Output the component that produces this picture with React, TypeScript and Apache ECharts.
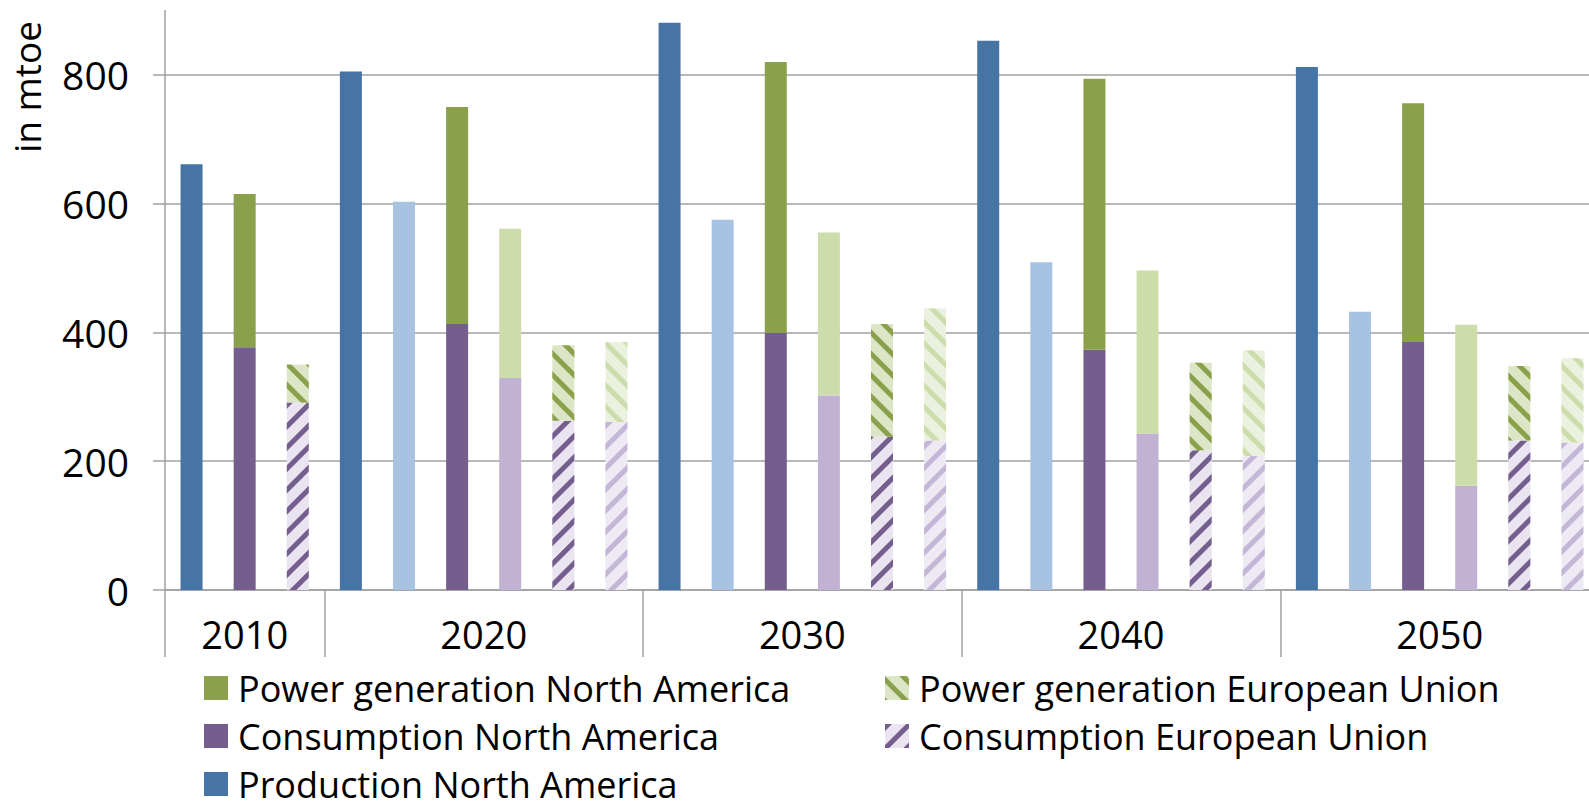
import React, { useEffect, useRef } from "react";
import * as echarts from "echarts";

// ---- data (mtoe) ----
const years = ["2010", "2020", "2030", "2040", "2050"];
// first scenario (dark bars)
const productionNA = [661, 805, 881, 853, 812];
const consumptionNA = [377, 413, 399, 373, 385];
const powerGenNA = [238, 337, 421, 421, 371];
const consumptionEU = [291, 263, 238, 217, 232];
const powerGenEU = [59, 117, 175, 136, 116];
// second scenario (light bars)
const productionNAAlt = [null, 603, 575, 509, 432];
const consumptionNAAlt = [null, 329, 302, 243, 162];
const powerGenNAAlt = [null, 232, 253, 253, 250];
const consumptionEUAlt = [null, 261, 232, 208, 229];
const powerGenEUAlt = [null, 124, 205, 164, 131];

const yTicks = [0, 200, 400, 600, 800];

const FONT = "Open Sans";
const GRID = "#a0a0a0";

const C = {
  prod: "#4674A5",
  prodL: "#A7C3E1",
  consNA: "#745E8D",
  consNAL: "#C1B2D3",
  powNA: "#8AA04B",
  powNAL: "#CDDCAB",
  consEUbg: "#E9E4EF",
  consEUbgL: "#EEEAF3",
  consEUstripeL: "#C4B6D6",
  powEUbg: "#DCE6C6",
  powEUbgL: "#EBF1DF",
  powEUstripeL: "#CDDCAB",
};

type Slot = { kind: "prod" | "na" | "eu"; alt: boolean; y: number };

function buildSlots() {
  const slots: Slot[] = [];
  const sizes: number[] = [];
  years.forEach((_, i) => {
    const hasAlt = productionNAAlt[i] != null;
    const before = slots.length;
    slots.push({ kind: "prod", alt: false, y: i });
    if (hasAlt) slots.push({ kind: "prod", alt: true, y: i });
    slots.push({ kind: "na", alt: false, y: i });
    if (hasAlt) slots.push({ kind: "na", alt: true, y: i });
    slots.push({ kind: "eu", alt: false, y: i });
    if (hasAlt) slots.push({ kind: "eu", alt: true, y: i });
    sizes.push(slots.length - before);
  });
  return { slots, sizes };
}

function stripes(color: string, rot: number) {
  return {
    symbol: "rect",
    symbolSize: 1,
    dashArrayX: [1, 0],
    dashArrayY: [5, 10],
    rotation: rot,
    color,
  };
}

// inner chart canvas extends above the visible frame so that the (hidden) 1000 line is clipped
const FRAME_TOP = 10;
const INNER_TOP = -64;
const OFF = -(FRAME_TOP + INNER_TOP); // page y -> inner y offset (= 54)
const INNER_H = 920;

export default function App() {
  const ref = useRef<HTMLDivElement>(null);

  useEffect(() => {
    if (!ref.current) return;
    const chart = echarts.init(ref.current, undefined, { renderer: "svg" });
    const { slots, sizes } = buildSlots();

    const slotNames = slots.map((s, i) => `${years[s.y]}-${s.kind}-${s.alt ? "b" : "a"}-${i}`);

    // half-slot point axis for group labels & separators
    const halfCount = slots.length * 2 + 1;
    const halfCats: string[] = new Array(halfCount).fill("");
    const tickIdx: number[] = [0];
    const labelIdx: number[] = [];
    let cum = 0;
    sizes.forEach((sz, g) => {
      const center = cum * 2 + sz;
      halfCats[center] = years[g];
      labelIdx.push(center);
      cum += sz;
      tickIdx.push(cum * 2);
    });

    const upDecal = (c: string) => stripes(c, -Math.PI / 4);
    const downDecal = (c: string) => stripes(c, Math.PI / 4);

    const pick = (
      kind: Slot["kind"],
      main: (number | null)[],
      alt: (number | null)[],
      altStyle: any
    ) =>
      slots.map((s) => {
        if (s.kind !== kind) return null;
        if (!s.alt) return main[s.y];
        return { value: alt[s.y], itemStyle: altStyle };
      });

    const barBase = { type: "bar", stack: "total", barWidth: 22, xAxisIndex: 0, yAxisIndex: 0 };

    const series = [
      {
        ...barBase,
        name: "Consumption North America",
        itemStyle: { color: C.consNA },
        data: pick("na", consumptionNA, consumptionNAAlt, { color: C.consNAL }),
      },
      {
        ...barBase,
        name: "Power generation North America",
        itemStyle: { color: C.powNA },
        data: pick("na", powerGenNA, powerGenNAAlt, { color: C.powNAL }),
      },
      {
        ...barBase,
        name: "Consumption European Union",
        itemStyle: { color: C.consEUbg, decal: upDecal(C.consNA) },
        data: pick("eu", consumptionEU, consumptionEUAlt, {
          color: C.consEUbgL,
          decal: upDecal(C.consEUstripeL),
        }),
      },
      {
        ...barBase,
        name: "Power generation European Union",
        itemStyle: { color: C.powEUbg, decal: downDecal(C.powNA) },
        data: pick("eu", powerGenEU, powerGenEUAlt, {
          color: C.powEUbgL,
          decal: downDecal(C.powEUstripeL),
        }),
      },
      {
        ...barBase,
        name: "Production North America",
        itemStyle: { color: C.prod },
        data: pick("prod", productionNA, productionNAAlt, { color: C.prodL }),
      },
    ];

    const legendText = {
      fontFamily: FONT,
      fontSize: 36,
      color: "#000",
      lineHeight: 36,
      padding: [0, 0, 0, 5],
    };
    const legendTop = 670 + OFF;
    // zero line at page y 590
    const gridBottom = INNER_H - (590 + OFF);

    chart.setOption({
      animation: false,
      backgroundColor: "#fff",
      grid: { left: 165, right: 1, top: 0, bottom: gridBottom, containLabel: false },
      xAxis: [
        {
          type: "category",
          data: slotNames,
          position: "bottom",
          axisLine: { show: true, lineStyle: { color: GRID, width: 1.5 } },
          axisTick: { show: false },
          axisLabel: { show: false },
          splitLine: { show: false },
        },
        {
          type: "category",
          data: halfCats,
          boundaryGap: false,
          position: "bottom",
          gridIndex: 0,
          axisLine: { show: false },
          axisTick: {
            show: true,
            length: 67,
            interval: (i: number) => tickIdx.includes(i),
            lineStyle: { color: GRID, width: 1.5 },
          },
          axisLabel: {
            show: true,
            interval: (i: number) => labelIdx.includes(i),
            margin: 25,
            fontFamily: FONT,
            fontSize: 38,
            color: "#000",
          },
          splitLine: { show: false },
        },
      ],
      yAxis: {
        type: "value",
        min: 0,
        max: 1000,
        interval: 200,
        axisLine: { show: true, lineStyle: { color: GRID, width: 1.5 } },
        axisTick: { show: true, length: 12, lineStyle: { color: GRID, width: 1.5 } },
        axisLabel: {
          margin: 36,
          fontFamily: FONT,
          fontSize: 39,
          color: "#000",
          formatter: (v: number) => (yTicks.includes(v) ? String(v) : ""),
        },
        splitLine: { show: true, lineStyle: { color: GRID, width: 1.5 } },
      },
      legend: [
        {
          data: [
            "Power generation North America",
            "Consumption North America",
            "Production North America",
          ],
          orient: "vertical",
          left: 204,
          top: legendTop,
          padding: 0,
          itemGap: 12,
          itemWidth: 24,
          itemHeight: 24,
          icon: "rect",
          selectedMode: false,
          textStyle: legendText,
        },
        {
          data: ["Power generation European Union", "Consumption European Union"],
          orient: "vertical",
          left: 885,
          top: legendTop,
          padding: 0,
          itemGap: 12,
          itemWidth: 24,
          itemHeight: 24,
          icon: "rect",
          selectedMode: false,
          textStyle: legendText,
        },
      ],
      graphic: [
        {
          type: "text",
          x: 26,
          y: 87 + OFF,
          rotation: Math.PI / 2,
          style: {
            text: "in mtoe",
            fontFamily: FONT,
            fontSize: 37,
            fill: "#000",
            align: "center",
            verticalAlign: "middle",
          },
        },
      ],
      series,
    });

    return () => chart.dispose();
  }, []);

  return (
    <div
      style={{
        position: "absolute",
        left: 0,
        top: FRAME_TOP,
        width: 1589,
        height: 800,
        overflow: "hidden",
      }}
    >
      <div
        ref={ref}
        style={{ position: "absolute", left: 0, top: INNER_TOP, width: 1600, height: INNER_H }}
      />
    </div>
  );
}
